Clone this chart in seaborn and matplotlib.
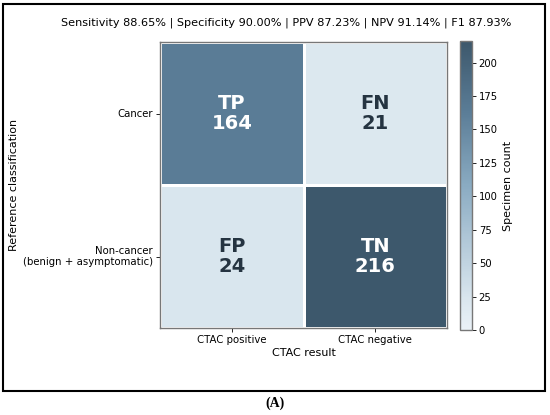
import numpy as np
import seaborn as sns
import matplotlib.pyplot as plt
from matplotlib.colors import LinearSegmentedColormap
from matplotlib.patches import Rectangle

row_labels = ["Cancer", "Non-cancer\n(benign + asymptomatic)"]
col_labels = ["CTAC positive", "CTAC negative"]
cell_names = [["TP", "FN"], ["FP", "TN"]]
counts = [[164, 21], [24, 216]]
metrics = {"Sensitivity": 88.65, "Specificity": 90.00, "PPV": 87.23, "NPV": 91.14, "F1": 87.93}

cm = np.array(counts)
annot = np.array([[f"{cell_names[i][j]}\n{counts[i][j]}" for j in range(2)] for i in range(2)])

# light slate-blue to dark slate
cmap = LinearSegmentedColormap.from_list(
    "slate", [(0.0, "#eaf1f7"), (0.1, "#dbe7ef"), (0.5, "#8aabc2"),
              (0.76, "#5a7c96"), (1.0, "#3d586c")])

fig = plt.figure(figsize=(5.5, 4.15), dpi=100)
ax = fig.add_axes([0.291, 0.2096, 0.5218, 0.689])
cax = fig.add_axes([0.836, 0.2048, 0.0218, 0.696])

sns.heatmap(cm, annot=annot, fmt="", cmap=cmap, vmin=0, vmax=cm.max(),
            linewidths=1, linecolor="white", cbar_ax=cax,
            xticklabels=col_labels, yticklabels=row_labels,
            annot_kws={"fontsize": 14, "fontweight": "bold"}, ax=ax)

for t, v in zip(ax.texts, cm.flatten()):
    t.set_color("white" if v > cm.max() / 2 else "#253441")
    t.set_linespacing(1.1)

ax.set_xlabel("CTAC result", fontsize=8, labelpad=2)
ax.set_ylabel("Reference classification", fontsize=8)
ax.yaxis.set_label_coords(-0.49, 0.5)
ax.tick_params(axis="both", labelsize=7.3, length=3, width=0.6, pad=2)
plt.setp(ax.get_yticklabels(), rotation=0, ha="right", multialignment="right")
plt.setp(ax.get_xticklabels(), rotation=0)
for s in ax.spines.values():
    s.set_visible(True)
    s.set_color("#777777")
    s.set_linewidth(1)

cbar = ax.collections[0].colorbar
cbar.set_ticks(range(0, 201, 25))
cbar.ax.tick_params(labelsize=7.2, length=3, width=0.6, pad=2)
cbar.set_label("Specimen count", fontsize=8, labelpad=4)
cbar.outline.set_edgecolor("#777777")
cbar.outline.set_linewidth(1)

title = " | ".join(f"{k} {v:.2f}%" for k, v in metrics.items())
fig.text(286 / 550, 1 - 23 / 415, title, ha="center", va="center", fontsize=8.1)

fig.patches.append(Rectangle((3 / 550, 1 - 391 / 415), 542 / 550, 387 / 415,
                             transform=fig.transFigure, fill=False,
                             edgecolor="black", linewidth=1.5))
fig.text(0.5, 1 - 403 / 415, "(A)", ha="center", va="center", fontsize=10,
         fontweight="bold", family="Liberation Serif")

fig.savefig("out.png", dpi=100)
